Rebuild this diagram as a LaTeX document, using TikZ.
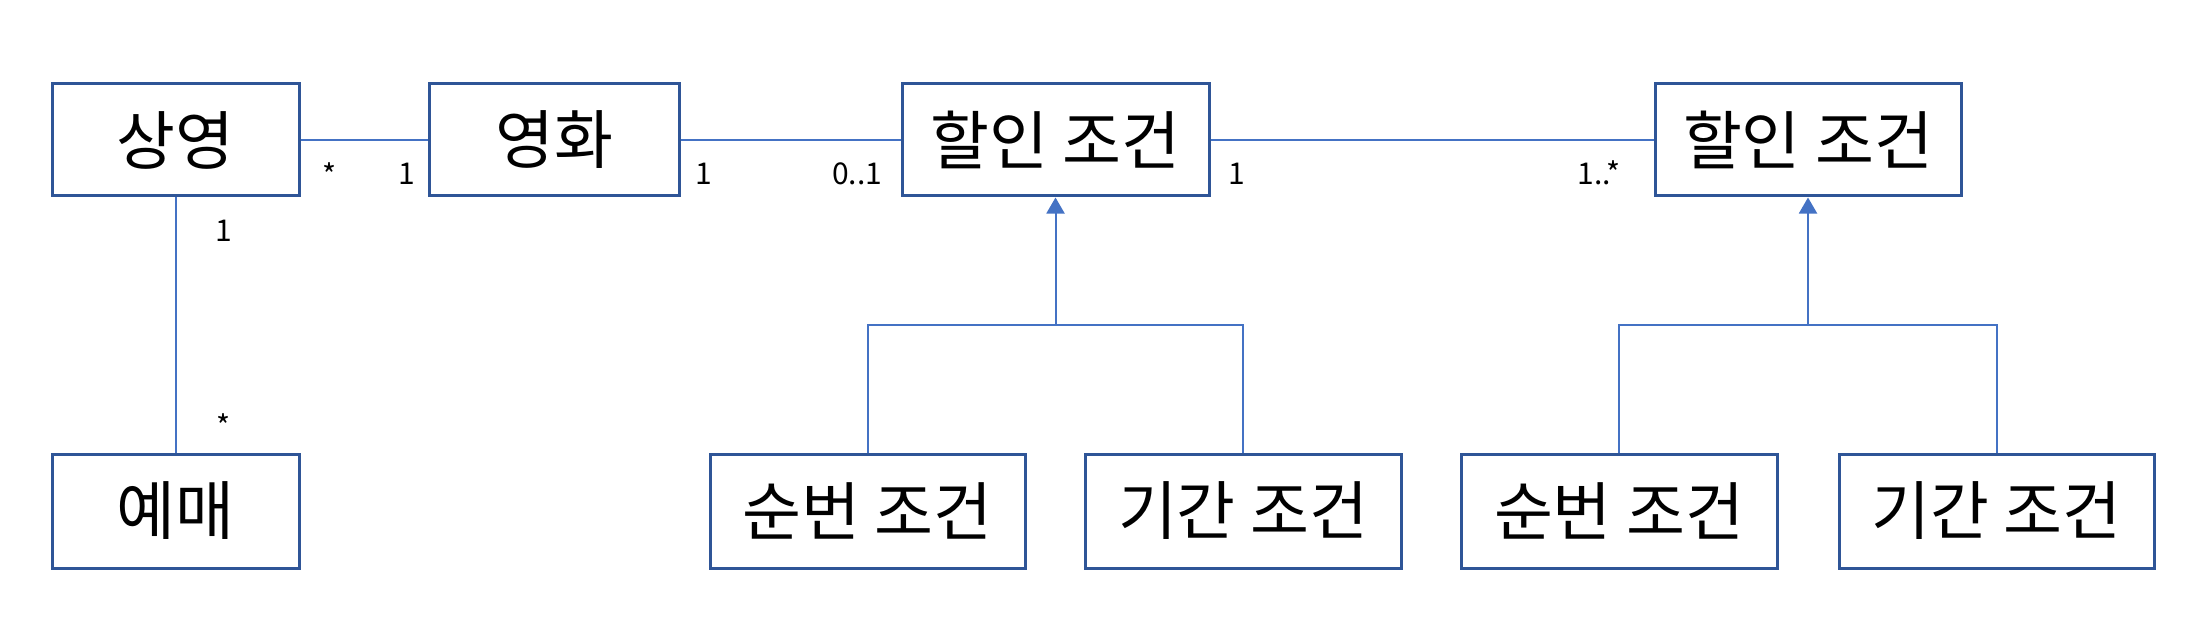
\documentclass[tikz,border=0pt]{standalone}
\usepackage{fontspec}
\setmainfont{Noto Sans CJK KR}
\usetikzlibrary{arrows.meta}
\definecolor{boxc}{HTML}{2F5597}
\definecolor{linec}{HTML}{4472C4}
\tikzset{
  cls/.style={draw=boxc, line width=3pt, fill=white, inner sep=0pt, minimum height=112pt, font=\fontsize{64}{68}\selectfont},
  conn/.style={draw=linec, line width=2pt},
  gen/.style={draw=linec, line width=2pt, -{Triangle[width=18pt,length=16pt]}, fill=linec},
  mult/.style={anchor=base, inner sep=0pt, font=\fontsize{30}{33}\selectfont}
}
\begin{document}
\begin{tikzpicture}[x=1pt,y=-1pt]
\path[use as bounding box] (0,0) rectangle (2199,631);
% classes
\node[cls, minimum width=247pt] (sy)  at (175.5,140) {상영};
\node[cls, minimum width=250pt] (yh)  at (554,140)   {영화};
\node[cls, minimum width=307pt] (hd1) at (1055.5,140) {할인 조건};
\node[cls, minimum width=306pt] (hd2) at (1808,140)  {할인 조건};
\node[cls, minimum width=247pt, minimum height=114pt] (ym) at (175.5,511) {예매};
\node[cls, minimum width=315pt, minimum height=114pt] (sb1) at (867.5,511) {순번 조건};
\node[cls, minimum width=316pt, minimum height=114pt] (gg1) at (1243,511) {기간 조건};
\node[cls, minimum width=316pt, minimum height=114pt] (sb2) at (1619,511) {순번 조건};
\node[cls, minimum width=315pt, minimum height=114pt] (gg2) at (1996.5,511) {기간 조건};
% associations
\draw[conn] (sy.east) -- (yh.west);
\draw[conn] (yh.east) -- (hd1.west);
\draw[conn] (hd1.east) -- (hd2.west);
\draw[conn] (sy.south) -- (ym.north);
% generalizations
\coordinate (j1) at (1055.5,325);
\coordinate (j2) at (1808,325);
\draw[conn] (sb1.north) |- (j1) -| (gg1.north);
\draw[gen] (j1) -- (hd1.south);
\draw[conn] (sb2.north) |- (j2) -| (gg2.north);
\draw[gen] (j2) -- (hd2.south);
% multiplicities
\node[mult] (m1) at (330,186) {*};
\node[mult] (m2) at (407,185) {1};
\node[mult] (m3) at (704,185) {1};
\node[mult] (m4) at (857,185) {0..1};
\node[mult] (m5) at (1237,185) {1};
\node[mult] (m6) at (1599,185) {1..*};
\node[mult] (m7) at (224,241) {1};
\node[mult] (m8) at (224,437) {*};
\end{tikzpicture}
\end{document}
